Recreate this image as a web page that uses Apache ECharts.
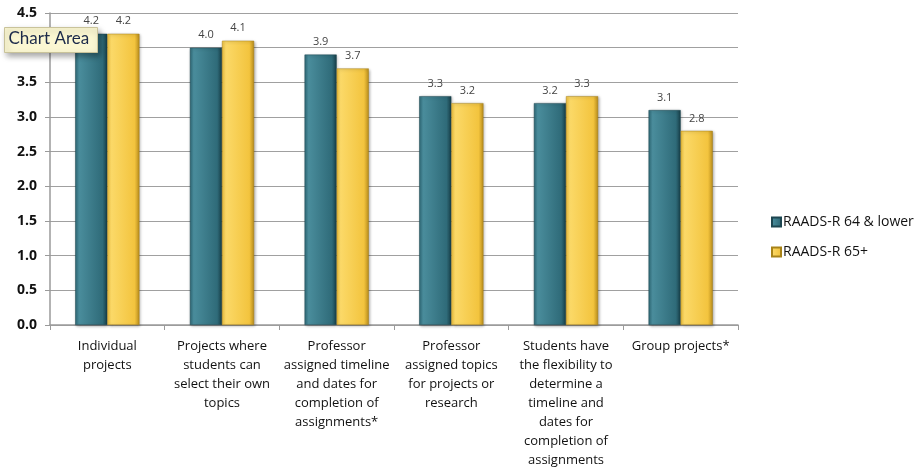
<!DOCTYPE html>
<html>
<head>
<meta charset="utf-8">
<script src="https://cdn.jsdelivr.net/npm/echarts@6/dist/echarts.min.js"></script>
<style>
  html, body { margin: 0; padding: 0; background: #fff; }
  #chart { width: 921px; height: 470px; }
</style>
</head>
<body>
<div id="chart"></div>
<script>
// Preference ratings by RAADS-R group
const categories = [
  'Individual\nprojects',
  'Projects where\nstudents can\nselect their own\ntopics',
  'Professor\nassigned timeline\nand dates for\ncompletion of\nassignments*',
  'Professor\nassigned topics\nfor projects or\nresearch',
  'Students have\nthe flexibility to\ndetermine a\ntimeline and\ndates for\ncompletion of\nassignments',
  'Group projects*'
];
const seriesNames = ['RAADS-R 64 & lower', 'RAADS-R 65+'];
const lowerScores = [4.2, 4.0, 3.9, 3.3, 3.2, 3.1];
const higherScores = [4.2, 4.1, 3.7, 3.2, 3.3, 2.8];
const yTicks = { min: 0, max: 4.5, interval: 0.5 };

const FONT = '"Open Sans", Lato, sans-serif';

function bevel(light, mid, dark) {
  return new echarts.graphic.LinearGradient(0, 0, 1, 0, [
    { offset: 0, color: mid },
    { offset: 0.12, color: light },
    { offset: 0.85, color: mid },
    { offset: 1, color: dark }
  ]);
}

const chart = echarts.init(document.getElementById('chart'));
chart.setOption({
  animation: false,
  textStyle: { fontFamily: FONT },
  grid: { left: 50, right: 183, top: 13, bottom: 145, containLabel: false },
  legend: {
    orient: 'vertical',
    left: 766,
    top: 210,
    itemWidth: 9,
    itemHeight: 9,
    itemGap: 16,
    icon: 'rect',
    textStyle: { fontFamily: FONT, fontSize: 14, color: '#111', padding: [0, 0, 0, -3] },
    data: seriesNames
  },
  xAxis: {
    type: 'category',
    data: categories,
    axisLine: { lineStyle: { color: '#9a9a9a', width: 1.5 } },
    axisTick: { show: true, length: 5, lineStyle: { color: '#9a9a9a' } },
    axisLabel: {
      interval: 0,
      margin: 12,
      fontFamily: FONT,
      fontSize: 13,
      color: '#111',
      lineHeight: 19,
      align: 'center'
    }
  },
  yAxis: {
    type: 'value',
    min: yTicks.min,
    max: yTicks.max,
    interval: yTicks.interval,
    axisLine: { show: true, lineStyle: { color: '#9a9a9a', width: 1.5 } },
    axisTick: { show: true, length: 5, lineStyle: { color: '#9a9a9a' } },
    splitLine: { lineStyle: { color: '#a0a0a0', width: 1 } },
    axisLabel: {
      margin: 13,
      fontFamily: FONT,
      fontSize: 14,
      fontWeight: 'bold',
      color: '#111',
      formatter: v => v.toFixed(1)
    }
  },
  series: [
    {
      name: seriesNames[0],
      type: 'bar',
      data: lowerScores,
      barGap: '0%',
      barCategoryGap: '44%',
      itemStyle: {
        color: bevel('#4a8d9c', '#2f6b79', '#173e48'),
        borderColor: '#1d4651',
        borderWidth: 0.5,
        shadowColor: 'rgba(0,0,0,0.35)',
        shadowBlur: 3,
        shadowOffsetX: 1,
        shadowOffsetY: 1
      },
      label: {
        show: true,
        position: 'top',
        distance: 7,
        fontFamily: FONT,
        fontSize: 11,
        color: '#444',
        formatter: p => p.value.toFixed(1)
      }
    },
    {
      name: seriesNames[1],
      type: 'bar',
      data: higherScores,
      itemStyle: {
        color: bevel('#fbd968', '#f3c43e', '#b98d1c'),
        borderColor: '#a88318',
        borderWidth: 0.5,
        shadowColor: 'rgba(0,0,0,0.35)',
        shadowBlur: 3,
        shadowOffsetX: 1,
        shadowOffsetY: 1
      },
      label: {
        show: true,
        position: 'top',
        distance: 7,
        fontFamily: FONT,
        fontSize: 11,
        color: '#444',
        formatter: p => p.value.toFixed(1)
      }
    }
  ],
  graphic: [
    {
      type: 'group',
      left: 4,
      top: 27,
      z: 100,
      zlevel: 1,
      children: [
        {
          type: 'rect',
          z: 100,
          zlevel: 1,
          shape: { x: 0, y: 0, width: 93, height: 25 },
          style: {
            fill: '#fbf7d2',
            stroke: '#c9c39a',
            lineWidth: 1,
            shadowColor: 'rgba(0,0,0,0.35)',
            shadowBlur: 6,
            shadowOffsetX: 2,
            shadowOffsetY: 3
          }
        },
        {
          type: 'text',
          z: 101,
          zlevel: 1,
          x: 4,
          y: 3,
          style: {
            text: 'Chart Area',
            fontFamily: 'Lato, sans-serif',
            fontSize: 17,
            fill: '#1c2a4a'
          }
        }
      ]
    }
  ]
});
</script>
</body>
</html>
